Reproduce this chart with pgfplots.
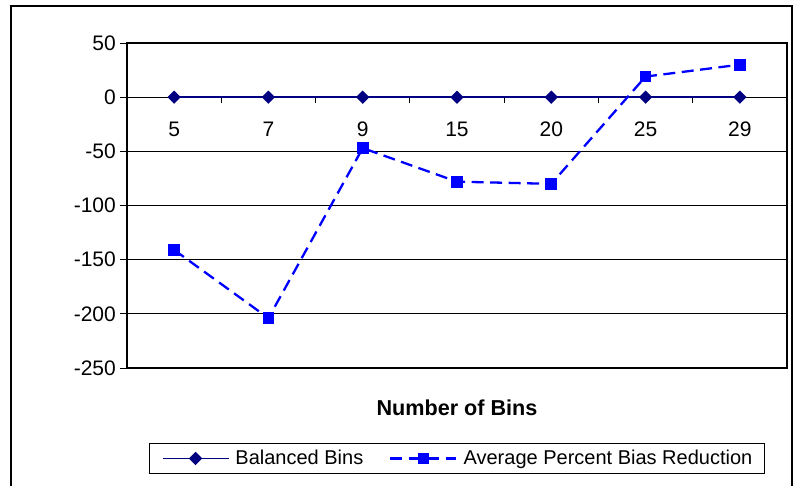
\documentclass[border=0pt]{standalone}
\usepackage{pgfplots}
\pgfplotsset{compat=1.18}
\usepackage{fontspec}
\setmainfont{Liberation Sans}
\definecolor{navyc}{RGB}{0,0,128}
\definecolor{bluec}{RGB}{0,0,255}
\newcommand\ff{\fontsize{20}{24}\selectfont}
\newcommand\ft{\fontsize{21}{25}\selectfont}
\newcommand\fl{\fontsize{21.6}{26}\selectfont}
\begin{document}
\begin{tikzpicture}
\useasboundingbox (0pt,0pt) rectangle (793pt,-485pt);
\draw[line width=1.2pt] (11pt,-495pt) -- (11pt,-6pt) -- (792pt,-6pt) -- (792pt,-495pt);
\begin{axis}[
  at={(127pt,-368pt)}, anchor=south west,
  scale only axis, width=660pt, height=325pt,
  xmin=0, xmax=7, ymin=-250, ymax=50,
  axis x line*=middle, axis y line*=left,
  axis line style={-},
  x axis line style={line width=0.8pt},
  y axis line style={line width=1.2pt},
  /pgf/number format/assume math mode=true,
  ytick={-250,-200,-150,-100,-50,0,50},
  ytick align=outside,
  yticklabel style={font=\ft, inner xsep=4pt},
  ymajorgrids, grid style={black, line width=0.7pt},
  xtick={0.5,1.5,2.5,3.5,4.5,5.5,6.5},
  xticklabels={5,7,9,15,20,25,29},
  xticklabel style={font=\ft, yshift=-14pt},
  major x tick style={draw=none},
  minor xtick={1,2,3,4,5,6},
  minor x tick style={black, line width=0.8pt},
  minor tick length=6pt,
  major tick length=7pt,
  y tick style={black, line width=0.8pt},
  xtick align=outside,
  xlabel={Number of Bins},
  xlabel style={at={(axis description cs:0.5,-0.123)}, anchor=center, font=\fl\bfseries},
  legend columns=2,
  legend image code/.code={\draw[mark repeat=2,mark phase=2,#1] plot coordinates {(0pt,0pt) (33pt,0pt) (66pt,0pt)};},
  legend style={at={(0.5,-0.2308)}, anchor=north, draw=black, line width=0.9pt,
    font=\ff, inner xsep=12pt, inner ysep=7pt, nodes={inner sep=0pt},
    /tikz/every odd column/.append style={column sep=6pt},
    /tikz/every even column/.append style={column sep=26pt}},
  after end axis/.code={\draw[line width=1.2pt] (rel axis cs:0,0) rectangle (rel axis cs:1,1);},
]
\addplot[navyc, line width=1.8pt, mark=square*, mark size=3.8pt, mark options={rotate=45, solid}]
  coordinates {(0.5,0) (1.5,0) (2.5,0) (3.5,0) (4.5,0) (5.5,0) (6.5,0)};
\addlegendentry{Balanced Bins}
\addplot[bluec, line width=2.3pt, dash pattern=on 12pt off 6.5pt, mark=square*, mark size=4.7pt, mark options={solid}]
  coordinates {(0.5,-141) (1.5,-204) (2.5,-47) (3.5,-78) (4.5,-80) (5.5,19) (6.5,30)};
\addlegendentry{Average Percent Bias Reduction}
\end{axis}
\end{tikzpicture}
\end{document}
